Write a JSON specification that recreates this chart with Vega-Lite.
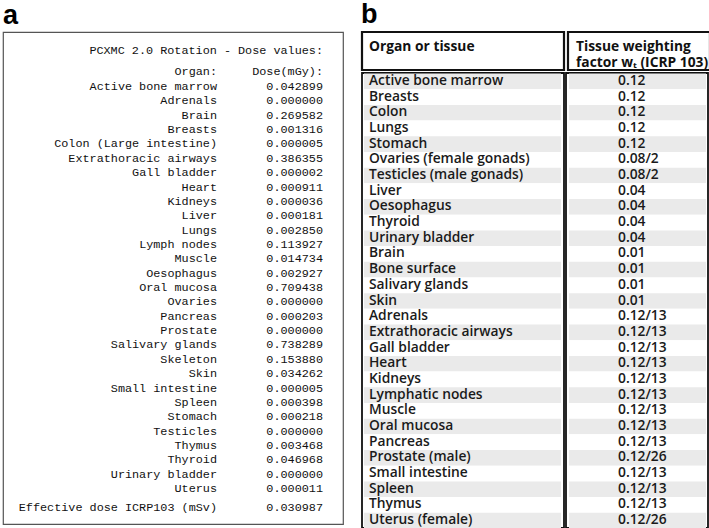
{
  "$schema": "https://vega.github.io/schema/vega-lite/v6.json",
  "background": "white",
  "padding": {"left": 2, "top": 0, "right": 0, "bottom": 0},
  "spacing": 16,
  "config": {
    "title": {"font": "Liberation Sans", "fontSize": 27, "fontWeight": "bold", "anchor": "start", "color": "#000", "offset": 2, "baseline": "alphabetic"},
    "view": {"stroke": "#555"}
  },
  "datasets": {
    "dose": [
      {"line": 0, "organ": "Active bone marrow", "dose": 0.042899},
      {"line": 1, "organ": "Adrenals", "dose": 0.000000},
      {"line": 2, "organ": "Brain", "dose": 0.269582},
      {"line": 3, "organ": "Breasts", "dose": 0.001316},
      {"line": 4, "organ": "Colon (Large intestine)", "dose": 0.000005},
      {"line": 5, "organ": "Extrathoracic airways", "dose": 0.386355},
      {"line": 6, "organ": "Gall bladder", "dose": 0.000002},
      {"line": 7, "organ": "Heart", "dose": 0.000911},
      {"line": 8, "organ": "Kidneys", "dose": 0.000036},
      {"line": 9, "organ": "Liver", "dose": 0.000181},
      {"line": 10, "organ": "Lungs", "dose": 0.002850},
      {"line": 11, "organ": "Lymph nodes", "dose": 0.113927},
      {"line": 12, "organ": "Muscle", "dose": 0.014734},
      {"line": 13, "organ": "Oesophagus", "dose": 0.002927},
      {"line": 14, "organ": "Oral mucosa", "dose": 0.709438},
      {"line": 15, "organ": "Ovaries", "dose": 0.000000},
      {"line": 16, "organ": "Pancreas", "dose": 0.000203},
      {"line": 17, "organ": "Prostate", "dose": 0.000000},
      {"line": 18, "organ": "Salivary glands", "dose": 0.738289},
      {"line": 19, "organ": "Skeleton", "dose": 0.153880},
      {"line": 20, "organ": "Skin", "dose": 0.034262},
      {"line": 21, "organ": "Small intestine", "dose": 0.000005},
      {"line": 22, "organ": "Spleen", "dose": 0.000398},
      {"line": 23, "organ": "Stomach", "dose": 0.000218},
      {"line": 24, "organ": "Testicles", "dose": 0.000000},
      {"line": 25, "organ": "Thymus", "dose": 0.003468},
      {"line": 26, "organ": "Thyroid", "dose": 0.046968},
      {"line": 27, "organ": "Urinary bladder", "dose": 0.000000},
      {"line": 28, "organ": "Uterus", "dose": 0.000011}
    ],
    "doseText": [
      {"text": "PCXMC 2.0 Rotation - Dose values:", "line": -2.51, "col": "dose"},
      {"text": "Organ:", "line": -1.07, "col": "organ"},
      {"text": "Dose(mGy):", "line": -1.07, "col": "dose"},
      {"text": "Effective dose ICRP103 (mSv)", "line": 29.32, "col": "organ"},
      {"text": "0.030987", "line": 29.32, "col": "dose"}
    ],
    "tissue": [
      {"row": 0, "organ": "Active bone marrow", "factor": "0.12"},
      {"row": 1, "organ": "Breasts", "factor": "0.12"},
      {"row": 2, "organ": "Colon", "factor": "0.12"},
      {"row": 3, "organ": "Lungs", "factor": "0.12"},
      {"row": 4, "organ": "Stomach", "factor": "0.12"},
      {"row": 5, "organ": "Ovaries (female gonads)", "factor": "0.08/2"},
      {"row": 6, "organ": "Testicles (male gonads)", "factor": "0.08/2"},
      {"row": 7, "organ": "Liver", "factor": "0.04"},
      {"row": 8, "organ": "Oesophagus", "factor": "0.04"},
      {"row": 9, "organ": "Thyroid", "factor": "0.04"},
      {"row": 10, "organ": "Urinary bladder", "factor": "0.04"},
      {"row": 11, "organ": "Brain", "factor": "0.01"},
      {"row": 12, "organ": "Bone surface", "factor": "0.01"},
      {"row": 13, "organ": "Salivary glands", "factor": "0.01"},
      {"row": 14, "organ": "Skin", "factor": "0.01"},
      {"row": 15, "organ": "Adrenals", "factor": "0.12/13"},
      {"row": 16, "organ": "Extrathoracic airways", "factor": "0.12/13"},
      {"row": 17, "organ": "Gall bladder", "factor": "0.12/13"},
      {"row": 18, "organ": "Heart", "factor": "0.12/13"},
      {"row": 19, "organ": "Kidneys", "factor": "0.12/13"},
      {"row": 20, "organ": "Lymphatic nodes", "factor": "0.12/13"},
      {"row": 21, "organ": "Muscle", "factor": "0.12/13"},
      {"row": 22, "organ": "Oral mucosa", "factor": "0.12/13"},
      {"row": 23, "organ": "Pancreas", "factor": "0.12/13"},
      {"row": 24, "organ": "Prostate (male)", "factor": "0.12/26"},
      {"row": 25, "organ": "Small intestine", "factor": "0.12/13"},
      {"row": 26, "organ": "Spleen", "factor": "0.12/13"},
      {"row": 27, "organ": "Thymus", "factor": "0.12/13"},
      {"row": 28, "organ": "Uterus (female)", "factor": "0.12/26"}
    ],
    "hdrLeft": [{"line": 1, "text": "Organ or tissue"}],
    "hdrRight": [{"line": 1, "text": "Tissue weighting"}, {"line": 2, "text": "factor wₜ (ICRP 103)"}]
  },
  "hconcat": [
    {
      "title": "a",
      "width": 340,
      "height": 492,
      "view": {"stroke": "#555", "strokeWidth": 1.2},
      "layer": [
        {
          "data": {"name": "dose"},
          "mark": {"type": "text", "font": "Liberation Mono", "fontSize": 11.8, "align": "right", "baseline": "middle", "color": "#111"},
          "encoding": {
            "x": {"datum": "organ", "type": "nominal", "scale": {"type": "point", "domain": ["organ", "dose"], "range": [214, 320], "padding": 0}, "axis": null},
            "y": {"field": "line", "type": "quantitative", "scale": {"domain": [-3.76, 30.5], "reverse": true, "nice": false, "zero": false}, "axis": null},
            "text": {"field": "organ", "type": "nominal"}
          }
        },
        {
          "data": {"name": "dose"},
          "mark": {"type": "text", "font": "Liberation Mono", "fontSize": 11.8, "align": "right", "baseline": "middle", "color": "#111"},
          "encoding": {
            "x": {"datum": "dose", "type": "nominal", "axis": null},
            "y": {"field": "line", "type": "quantitative", "axis": null},
            "text": {"field": "dose", "type": "quantitative", "format": ".6f"}
          }
        },
        {
          "data": {"name": "doseText"},
          "mark": {"type": "text", "font": "Liberation Mono", "fontSize": 11.8, "align": "right", "baseline": "middle", "color": "#111"},
          "encoding": {
            "x": {"field": "col", "type": "nominal", "axis": null},
            "y": {"field": "line", "type": "quantitative", "axis": null},
            "text": {"field": "text", "type": "nominal"}
          }
        }
      ]
    },
    {
      "title": "b",
      "spacing": 0,
      "vconcat": [
        {
          "spacing": 0,
          "hconcat": [
            {
              "width": 202,
              "height": 38,
              "data": {"name": "hdrLeft"},
              "view": {"stroke": "#111", "strokeWidth": 2.2},
              "mark": {"type": "text", "font": "Open Sans", "fontSize": 13.8, "fontWeight": 700, "align": "left", "baseline": "middle", "dx": 7, "color": "#111"},
              "encoding": {
                "x": {"value": 0},
                "y": {"field": "line", "type": "ordinal", "scale": {"type": "point", "domain": [1, 2], "range": [15, 31], "padding": 0}, "axis": null},
                "text": {"field": "text", "type": "nominal"}
              }
            },
            {
              "width": 142,
              "height": 38,
              "data": {"name": "hdrRight"},
              "view": {"stroke": "#111", "strokeWidth": 2.2},
              "mark": {"type": "text", "font": "Open Sans", "fontSize": 13.8, "fontWeight": 700, "align": "left", "baseline": "middle", "dx": 8, "color": "#111"},
              "encoding": {
                "x": {"value": 0},
                "y": {"field": "line", "type": "ordinal", "scale": {"type": "point", "domain": [1, 2], "range": [15, 31], "padding": 0}, "axis": null},
                "text": {"field": "text", "type": "nominal"}
              }
            }
          ]
        },
        {
          "spacing": 0,
          "hconcat": [
            {
              "width": 202,
              "height": 455,
              "data": {"name": "tissue"},
              "view": {"stroke": "#111", "strokeWidth": 1.8},
              "encoding": {
                "y": {"field": "row", "type": "ordinal", "scale": {"type": "band", "paddingInner": 0, "paddingOuter": 0}, "axis": null}
              },
              "layer": [
                {
                  "mark": {"type": "rect", "xOffset": 2, "x2Offset": -3, "yOffset": 0.5, "y2Offset": -0.5},
                  "encoding": {
                    "x": {"value": 0},
                    "x2": {"value": "width"},
                    "fill": {"condition": {"test": "datum.row % 2 == 0", "value": "#eaeaea"}, "value": "white"}
                  }
                },
                {
                  "mark": {"type": "text", "font": "Open Sans", "fontSize": 13.8, "fontWeight": 600, "align": "left", "baseline": "middle", "dx": 7, "color": "#1a1a1a"},
                  "encoding": {
                    "x": {"value": 0},
                    "text": {"field": "organ", "type": "nominal"}
                  }
                }
              ]
            },
            {
              "width": 142,
              "height": 455,
              "data": {"name": "tissue"},
              "view": {"stroke": "#111", "strokeWidth": 1.8},
              "encoding": {
                "y": {"field": "row", "type": "ordinal", "scale": {"type": "band", "paddingInner": 0, "paddingOuter": 0}, "axis": null}
              },
              "layer": [
                {
                  "mark": {"type": "rect", "xOffset": 3, "x2Offset": -2, "yOffset": 0.5, "y2Offset": -0.5},
                  "encoding": {
                    "x": {"value": 0},
                    "x2": {"value": "width"},
                    "fill": {"condition": {"test": "datum.row % 2 == 0", "value": "#eaeaea"}, "value": "white"}
                  }
                },
                {
                  "mark": {"type": "text", "font": "Open Sans", "fontSize": 13.8, "fontWeight": 600, "align": "left", "baseline": "middle", "dx": 52, "color": "#1a1a1a"},
                  "encoding": {
                    "x": {"value": 0},
                    "text": {"field": "factor", "type": "nominal"}
                  }
                }
              ]
            }
          ]
        }
      ]
    }
  ]
}
